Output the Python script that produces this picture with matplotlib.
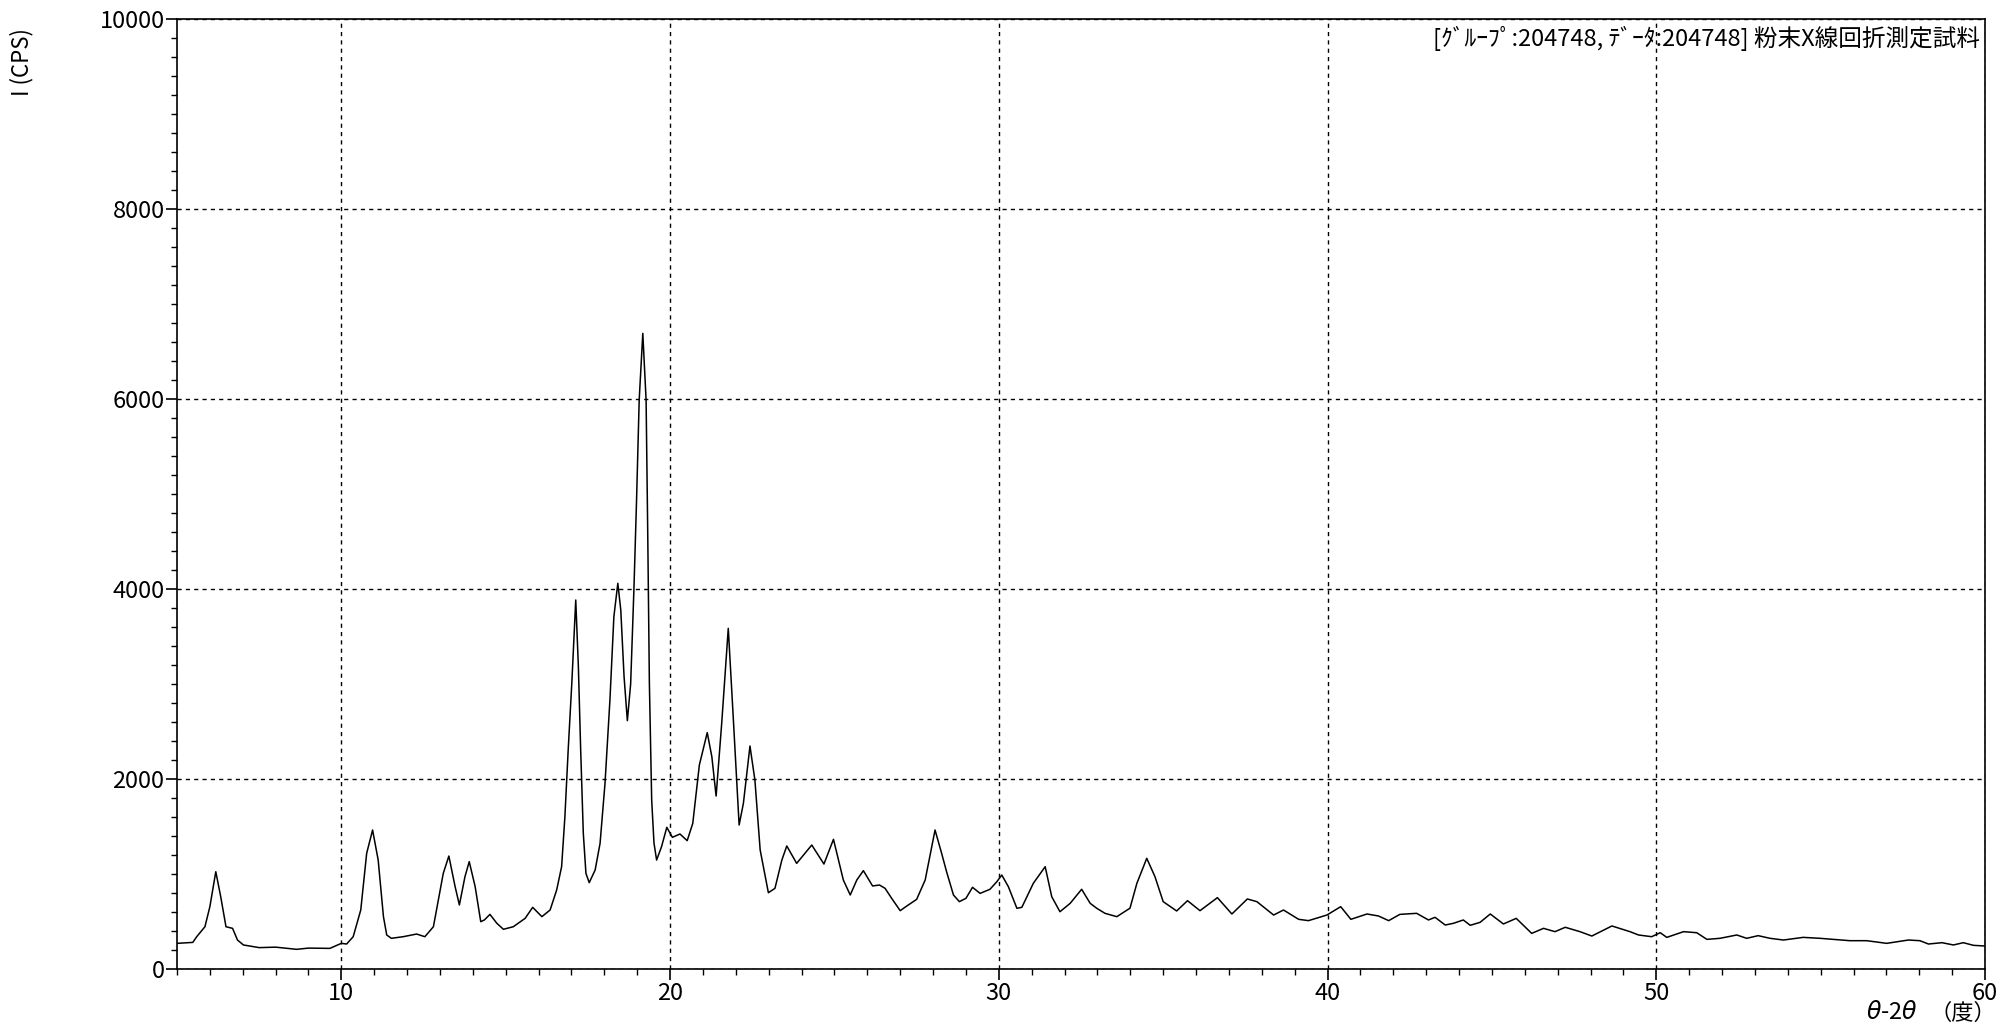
import matplotlib
matplotlib.use("Agg")
import matplotlib.pyplot as plt
from matplotlib.ticker import MultipleLocator

# 2theta (deg) and intensity (CPS)
two_theta = [5.0, 5.48, 5.6, 5.85, 6.0, 6.18, 6.33, 6.49, 6.69, 6.84, 7.02, 7.5, 8.0, 8.64, 9.0, 9.65,
             10.0, 10.16, 10.36, 10.59, 10.77, 10.95, 11.12, 11.28, 11.38, 11.52, 11.88, 12.29, 12.54,
             12.8, 13.1, 13.27, 13.46, 13.59, 13.76, 13.89, 14.07, 14.24, 14.35, 14.52, 14.73, 14.93,
             15.23, 15.59, 15.82, 16.1, 16.35, 16.55, 16.7, 16.8, 16.9, 17.01, 17.13, 17.21, 17.28,
             17.36, 17.44, 17.54, 17.72, 17.87, 18.02, 18.17, 18.29, 18.41, 18.5, 18.6, 18.7, 18.8,
             18.9, 18.98, 19.06, 19.17, 19.27, 19.32, 19.37, 19.44, 19.51, 19.59, 19.74, 19.9, 20.07,
             20.3, 20.52, 20.69, 20.89, 21.13, 21.27, 21.4, 21.57, 21.77, 21.92, 22.1, 22.23, 22.43,
             22.58, 22.74, 22.99, 23.19, 23.4, 23.55, 23.85, 24.31, 24.68, 24.97, 25.27, 25.48, 25.68,
             25.88, 26.16, 26.37, 26.54, 26.74, 27.0, 27.2, 27.5, 27.76, 28.06, 28.26, 28.41, 28.62,
             28.8, 29.0, 29.2, 29.43, 29.73, 29.94, 30.09, 30.29, 30.55, 30.7, 31.05, 31.41, 31.61,
             31.86, 32.17, 32.52, 32.78, 32.98, 33.23, 33.59, 33.99, 34.2, 34.5, 34.75, 35.0, 35.41,
             35.74, 36.12, 36.65, 37.09, 37.56, 37.85, 38.36, 38.66, 39.12, 39.42, 39.98, 40.4, 40.71,
             41.2, 41.55, 41.86, 42.2, 42.71, 43.07, 43.27, 43.58, 43.83, 44.13, 44.34, 44.64, 44.95,
             45.35, 45.74, 46.21, 46.57, 46.92, 47.23, 47.68, 48.04, 48.65, 49.2, 49.46, 49.86, 50.12,
             50.32, 50.83, 51.23, 51.54, 51.94, 52.45, 52.75, 53.1, 53.46, 53.87, 54.47, 54.98, 55.38,
             55.89, 56.4, 57.01, 57.67, 58.02, 58.28, 58.69, 59.04, 59.34, 59.65, 60.0]
intensity = [270, 280, 340, 445, 656, 1024, 761, 445, 428, 305, 253, 225, 230, 207, 220, 217,
             270, 263, 340, 621, 1218, 1463, 1147, 551, 358, 323, 340, 368, 340,
             445, 1007, 1189, 867, 674, 972, 1130, 867, 498, 516, 575, 481, 418,
             445, 533, 649, 551, 621, 832, 1077, 1603, 2305, 3007, 3884, 3182, 2305,
             1428, 1007, 909, 1042, 1323, 1954, 2832, 3709, 4060, 3779, 3077, 2614, 3000,
             4000, 4937, 5989, 6691, 5989, 4586, 3007, 1779, 1326, 1147, 1288, 1491, 1386,
             1421, 1351, 1533, 2147, 2488, 2235, 1821, 2586, 3586, 2656, 1516, 1744, 2347,
             1989, 1253, 803, 849, 1147, 1295, 1112, 1305, 1105, 1365, 937, 779, 937,
             1035, 874, 884, 849, 744, 614, 663, 733, 937, 1463, 1218, 1025, 779,
             709, 744, 860, 796, 839, 919, 989, 867, 639, 649, 902, 1077, 761,
             603, 691, 839, 691, 639, 586, 551, 640, 902, 1165, 972, 709, 611,
             719, 614, 751, 579, 737, 709, 568, 621, 523, 509, 568, 656, 523,
             579, 558, 509, 575, 586, 516, 544, 463, 481, 516, 460, 491, 579,
             474, 533, 375, 428, 393, 439, 393, 347, 453, 393, 358, 340, 382,
             333, 393, 382, 312, 323, 358, 323, 351, 323, 305, 333, 323, 312,
             298, 298, 270, 305, 298, 263, 277, 253, 277, 249, 242]

x_ticks = [10, 20, 30, 40, 50, 60]
y_ticks = [0, 2000, 4000, 6000, 8000, 10000]
title_txt = "[ｸﾞﾙｰﾌﾟ:204748, ﾃﾞｰﾀ:204748] 粉末X線回折測定試料"

jp_font = ['Noto Sans CJK JP', 'DejaVu Sans']
plt.rcParams['font.family'] = jp_font

fig = plt.figure(figsize=(19.97, 10.30), dpi=100)
ax = fig.add_axes([177/1997, 1-969/1030, (1985-177)/1997, (969-19)/1030])

ax.plot(two_theta, intensity, color='black', lw=1.1)

ax.set_xlim(5, 60)
ax.set_ylim(0, 10000)
ax.set_xticks(x_ticks)
ax.set_yticks(y_ticks)
ax.xaxis.set_minor_locator(MultipleLocator(1))
ax.yaxis.set_minor_locator(MultipleLocator(200))
ax.tick_params(which='major', direction='out', length=8, width=1.2, labelsize=17)
ax.tick_params(which='minor', direction='out', length=4, width=1.0)
ax.tick_params(axis='y', pad=1)
ax.tick_params(axis='x', pad=1)
ax.grid(True, which='major', color='black', lw=1.0, ls=(0, (3, 3)))
for s in ax.spines.values():
    s.set_linewidth(1.2)

ax.text(0.997, 0.993, title_txt, transform=ax.transAxes, ha='right', va='top', fontsize=17)

fig.text(22/1997, 1-62/1030, 'I (CPS)', rotation=90, ha='center', va='center', fontsize=16)
fig.text(1996/1997, 5/1030, '（度）', ha='right', va='bottom', fontsize=16)
fig.text(1918/1997, 6/1030, r'$\theta$-2$\theta$', ha='right', va='bottom', fontsize=17)

fig.savefig('out.png', dpi=100)
